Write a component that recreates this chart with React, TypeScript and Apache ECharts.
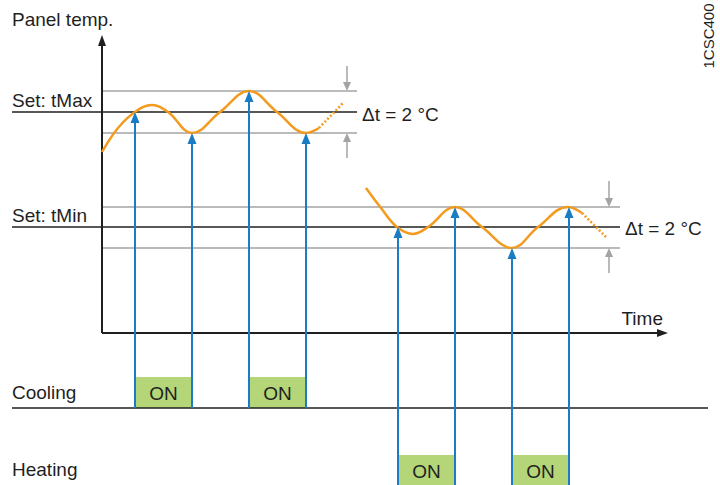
import React, { useEffect, useRef } from "react";
import * as echarts from "echarts";

// Diagram drawn on hidden axes: x = time (0..720), y = panel temperature (0..485, downwards)
const X_RANGE = [0, 720];
const Y_RANGE = [0, 485];

// Panel temperature curve around tMax
const tMaxCurve = [[102, 152], [118, 128], [135, 112], [152, 105], [168, 112], [192, 133], [220, 112], [249, 91], [277, 112], [306, 133], [319, 128]];
const tMaxDotted = [[319, 128], [343, 103]];
// Panel temperature curve around tMin
const tMinCurve = [[366, 188], [381, 208], [397, 227], [413, 234], [428, 227], [455, 207], [482, 227], [512, 248], [538, 227], [568, 207], [582, 213]];
const tMinDotted = [[582, 213], [606, 237]];

// Set points and Δt band limits: [x1, y1, x2, y2]
const setpointLines = [[12, 112, 357, 112], [12, 227, 620, 227]];
const bandLines = [[102, 91, 357, 91], [102, 133, 357, 133], [102, 207, 620, 207], [102, 248, 620, 248]];
const coolingBaseline = [[12, 408, 708, 408]];

// Switching instants: [time, temperature]
const coolingSwitch = [[135, 112], [192, 133], [249, 91], [306, 133]];
const heatingSwitch = [[398, 227], [455, 207], [512, 248], [569, 207]];

// ON periods: [start, end]
const coolingOn = [[135, 192], [249, 306]];
const heatingOn = [[398, 455], [512, 569]];
const coolingRow = [377, 408];
const heatingRow = [455, 485];

// Axis arrows and Δt indicator arrows: [x1, y1, x2, y2]
const axisArrows = [[102, 333, 102, 35], [102, 333, 668, 333]];
const deltaArrows = [[347, 66, 347, 91], [347, 158, 347, 133], [609, 181, 609, 207], [609, 273, 609, 248]];

const FONT = "'Liberation Sans', Arial, Helvetica, sans-serif";
const TEXT = "#1f1f1f";
const FS = 19;

function segRender(color: string, width: number) {
  return (_p: any, api: any) => {
    const a = api.coord([api.value(0), api.value(1)]);
    const b = api.coord([api.value(2), api.value(3)]);
    return {
      type: "line",
      shape: { x1: a[0], y1: a[1], x2: b[0], y2: b[1] },
      style: { stroke: color, lineWidth: width },
    };
  };
}

function arrowRender(color: string, width: number, headLen: number, headW: number) {
  return (_p: any, api: any) => {
    const a = api.coord([api.value(0), api.value(1)]);
    const b = api.coord([api.value(2), api.value(3)]);
    const dx = b[0] - a[0];
    const dy = b[1] - a[1];
    const len = Math.hypot(dx, dy) || 1;
    const ux = dx / len;
    const uy = dy / len;
    const bx = b[0] - ux * headLen;
    const by = b[1] - uy * headLen;
    const nx = -uy;
    const ny = ux;
    return {
      type: "group",
      children: [
        {
          type: "line",
          shape: { x1: a[0], y1: a[1], x2: bx + ux, y2: by + uy },
          style: { stroke: color, lineWidth: width },
        },
        {
          type: "polygon",
          shape: {
            points: [
              [b[0], b[1]],
              [bx + (nx * headW) / 2, by + (ny * headW) / 2],
              [bx - (nx * headW) / 2, by - (ny * headW) / 2],
            ],
          },
          style: { fill: color },
        },
      ],
    };
  };
}

function boxRender(row: number[]) {
  return (_p: any, api: any) => {
    const a = api.coord([api.value(0), row[0]]);
    const b = api.coord([api.value(1), row[1]]);
    return {
      type: "group",
      children: [
        {
          type: "rect",
          shape: { x: a[0], y: a[1], width: b[0] - a[0], height: b[1] - a[1] },
          style: { fill: "#b5d678" },
        },
        {
          type: "text",
          x: (a[0] + b[0]) / 2,
          y: (a[1] + b[1]) / 2 + 1,
          style: {
            text: "ON",
            fill: TEXT,
            font: `${FS}px ${FONT}`,
            align: "center",
            verticalAlign: "middle",
          },
        },
      ],
    };
  };
}

function label(text: string, x: number, y: number, align = "left") {
  return {
    type: "text",
    x,
    y,
    z: 10,
    style: { text, fill: TEXT, font: `${FS}px ${FONT}`, align, verticalAlign: "middle" },
  };
}

export default function App() {
  const ref = useRef<HTMLDivElement>(null);

  useEffect(() => {
    document.body.style.margin = "0";
    if (!ref.current) return;
    const chart = echarts.init(ref.current, undefined, { renderer: "svg" });

    const blueArrows = [
      ...coolingSwitch.map(([t, v]) => [t, coolingBaseline[0][1], t, v]),
      ...heatingSwitch.map(([t, v]) => [t, Y_RANGE[1], t, v]),
    ];

    const orange = "#f39a1f";

    chart.setOption({
      animation: false,
      backgroundColor: "#ffffff",
      grid: { left: 0, right: 0, top: 0, bottom: 0 },
      xAxis: { type: "value", min: X_RANGE[0], max: X_RANGE[1], show: false },
      yAxis: { type: "value", min: Y_RANGE[0], max: Y_RANGE[1], inverse: true, show: false },
      graphic: [
        label("Panel temp.", 12, 19),
        label("Set: tMax", 12, 100),
        label("Set: tMin", 12, 215),
        label("Cooling", 12, 392),
        label("Heating", 12, 469),
        label("Time", 663, 318, "right"),
        label("\u0394t = 2 \u00b0C", 362, 114),
        label("\u0394t = 2 \u00b0C", 625, 228),
        {
          type: "text",
          x: 708,
          y: 36,
          rotation: Math.PI / 2,
          z: 10,
          style: {
            text: "1CSC400",
            fill: TEXT,
            font: `15px ${FONT}`,
            align: "center",
            verticalAlign: "middle",
          },
        },
      ],
      series: [
        { type: "custom", name: "cooling on", data: coolingOn, renderItem: boxRender(coolingRow), clip: false, z: 1 },
        { type: "custom", name: "heating on", data: heatingOn, renderItem: boxRender(heatingRow), clip: false, z: 1 },
        { type: "custom", name: "band", data: bandLines, renderItem: segRender("#a3a3a3", 1.5), clip: false, z: 2 },
        { type: "custom", name: "setpoint", data: setpointLines, renderItem: segRender("#1f1f1f", 1.5), clip: false, z: 2 },
        { type: "custom", name: "baseline", data: coolingBaseline, renderItem: segRender("#1f1f1f", 1.5), clip: false, z: 2 },
        { type: "custom", name: "axes", data: axisArrows, renderItem: arrowRender("#1f1f1f", 2, 11, 8), clip: false, z: 3 },
        {
          type: "line",
          name: "tMax curve",
          data: tMaxCurve,
          smooth: 0.4,
          symbol: "none",
          lineStyle: { color: orange, width: 2.5 },
          z: 4,
        },
        {
          type: "line",
          name: "tMax dotted",
          data: tMaxDotted,
          symbol: "none",
          lineStyle: { color: orange, width: 2.5, type: [2, 2] },
          z: 4,
        },
        {
          type: "line",
          name: "tMin curve",
          data: tMinCurve,
          smooth: 0.4,
          symbol: "none",
          lineStyle: { color: orange, width: 2.5 },
          z: 4,
        },
        {
          type: "line",
          name: "tMin dotted",
          data: tMinDotted,
          symbol: "none",
          lineStyle: { color: orange, width: 2.5, type: [2, 2] },
          z: 4,
        },
        { type: "custom", name: "switch", data: blueArrows, renderItem: arrowRender("#1a7cc3", 2, 11, 9), clip: false, z: 5 },
        { type: "custom", name: "delta", data: deltaArrows, renderItem: arrowRender("#a3a3a3", 1.5, 9, 8), clip: false, z: 5 },
      ],
    });

    return () => chart.dispose();
  }, []);

  return <div ref={ref} style={{ width: 720, height: 485 }} />;
}
